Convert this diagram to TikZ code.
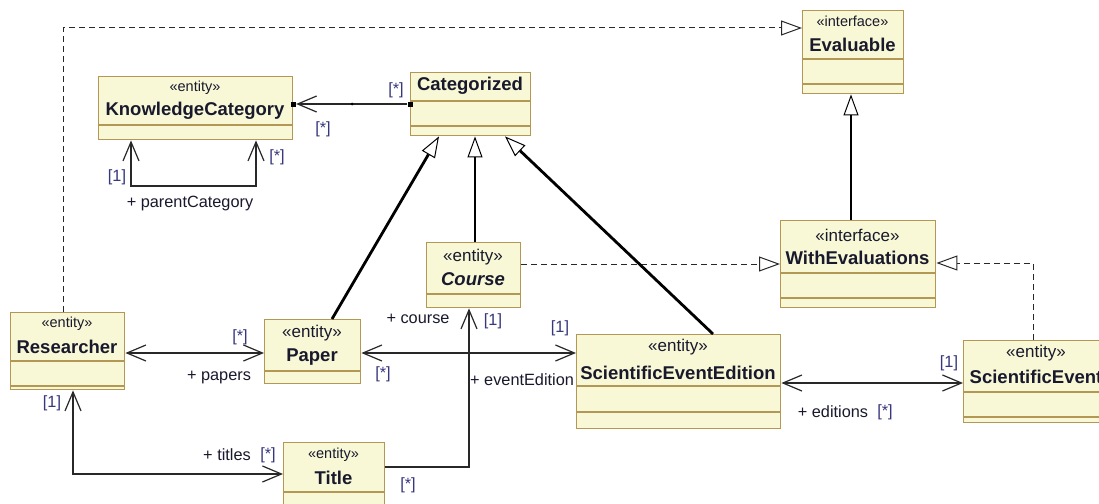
\documentclass[tikz,border=0pt]{standalone}
\usepackage{fontspec}
\setmainfont{Liberation Sans}
\usetikzlibrary{arrows.meta}
\definecolor{boxfill}{RGB}{248,248,214}
\definecolor{boxdraw}{RGB}{178,152,84}
\definecolor{txt}{RGB}{25,25,45}
\definecolor{mult}{RGB}{55,55,125}
\definecolor{lin}{RGB}{40,40,40}
\tikzset{
  navtip/.tip={Straight Barb[length=19pt,width=16pt,line width=1.2pt]},
  gentip/.tip={Triangle[fill=white,length=21pt,width=15pt,line width=1pt]},
}
\newcommand\umlbox[5]{\node[ubox,anchor=north west,minimum width={(#4-#2)*1pt},minimum height={(#5-#3)*1pt}] (#1) at (#2,#3) {};}
\begin{document}
\begin{tikzpicture}[x=1pt,y=-1pt,
  ubox/.style={draw=boxdraw,fill=boxfill,line width=1.4pt,inner sep=0,rectangle},
  divl/.style={draw=boxdraw,line width=1.4pt},
  nm/.style={font=\fontsize{18.5}{18.5}\selectfont\bfseries,text=txt,inner sep=0},
  stl/.style={font=\fontsize{17}{17}\selectfont,text=txt,inner sep=0},
  sts/.style={font=\fontsize{14.5}{14.5}\selectfont,text=txt,inner sep=0},
  role/.style={font=\fontsize{16.3}{16.3}\selectfont,text=txt,inner sep=0},
  mul/.style={font=\fontsize{16.3}{16.3}\selectfont,text=mult,inner sep=0},
  assoc/.style={draw=lin,line width=1.3pt},
  gen/.style={draw=black,line width=2.8pt,-{gentip}},
  dsh/.style={draw=lin,line width=1pt,dash pattern=on 6pt off 4pt,-{gentip}},
  sq/.style={fill=black,minimum size=5pt,inner sep=0,rectangle},
  dotst/.style={fill=black,circle,minimum size=3pt,inner sep=0},
]
\fill[white] (0,0) rectangle (1099,503);
\useasboundingbox (0,0) rectangle (1099,503);

% ---------- boxes ----------
\umlbox{kc}{98}{76}{292}{139}
\draw[divl] (kc.west |- 0,125) -- (kc.east |- 0,125);
\node[sts] (kcst) at (195,88) {«entity»};
\node[nm] (kcnm) at (195,111) {KnowledgeCategory};

\umlbox{cat}{410}{72}{530}{135}
\draw[divl] (cat.west |- 0,101) -- (cat.east |- 0,101);
\draw[divl] (cat.west |- 0,126) -- (cat.east |- 0,126);
\node[nm] (catnm) at (470,86) {Categorized};

\umlbox{eval}{802}{10}{903}{93}
\draw[divl] (eval.west |- 0,59) -- (eval.east |- 0,59);
\draw[divl] (eval.west |- 0,84) -- (eval.east |- 0,84);
\node[sts] (evst) at (852.5,21) {«interface»};
\node[nm] (evnm) at (852.5,45) {Evaluable};

\umlbox{withev}{780}{220}{935}{307}
\draw[divl] (withev.west |- 0,273) -- (withev.east |- 0,273);
\draw[divl] (withev.west |- 0,298) -- (withev.east |- 0,298);
\node[stl] (west) at (857.5,235) {«interface»};
\node[nm] (wenm) at (857.5,258) {WithEvaluations};

\umlbox{course}{426}{242}{520}{307}
\draw[divl] (course.west |- 0,294) -- (course.east |- 0,294);
\node[stl] (cost) at (473,257) {«entity»};
\node[nm,font=\fontsize{18.5}{18.5}\selectfont\bfseries\itshape] (conm) at (473,279) {Course};

\umlbox{paper}{264}{319}{360}{383}
\draw[divl] (paper.west |- 0,371) -- (paper.east |- 0,371);
\node[stl] (past) at (312,333) {«entity»};
\node[nm] (panm) at (312,357) {Paper};

\umlbox{res}{10}{312}{124}{389}
\draw[divl] (res.west |- 0,361) -- (res.east |- 0,361);
\draw[divl] (res.west |- 0,386) -- (res.east |- 0,386);
\node[sts] (rest) at (67,324) {«entity»};
\node[nm] (renm) at (67,347) {Researcher};

\umlbox{see}{576}{334}{780}{428}
\draw[divl] (see.west |- 0,386) -- (see.east |- 0,386);
\draw[divl] (see.west |- 0,412) -- (see.east |- 0,412);
\node[stl] (seest) at (678,347) {«entity»};
\node[nm] (seenm) at (678,373) {ScientificEventEdition};

\umlbox{se}{963}{340}{1110}{422}
\draw[divl] (se.west |- 0,392) -- (se.east |- 0,392);
\draw[divl] (se.west |- 0,417) -- (se.east |- 0,417);
\node[stl] (sest) at (1036,353) {«entity»};
\node[nm] (senm) at (1036,377) {ScientificEvent};

\umlbox{title}{283}{442}{384}{512}
\draw[divl] (title.west |- 0,492) -- (title.east |- 0,492);
\node[sts] (tist) at (333.5,455) {«entity»};
\node[nm] (tinm) at (333.5,478) {Title};

% ---------- realizations (dashed) ----------
\draw[dsh] (res.north -| 63,0) |- (eval.west |- 0,28);
\draw[dsh] (course.east |- 0,264) -- (withev.west |- 0,264);
\draw[dsh] (se.north -| 1033,0) |- (withev.east |- 0,263);

% ---------- generalizations ----------
\draw[gen] (withev.north -| 851,0) -- (eval.south -| 851,0);
\draw[gen] (paper.north -| 332,0) -- (cat.south -| 439,0);
\draw[gen] (course.north -| 475,0) -- (cat.south -| 475,0);
\draw[gen] (see.north -| 713,0) -- (cat.south -| 505,0);

% ---------- associations ----------
\node[sq] (sq1) at (kc.east |- 0,104) {};
\node[sq] (sq2) at (cat.west |- 0,104) {};
\draw[assoc,-{navtip}] (sq2.west) -- (sq1.east);
\node[dotst] (mid) at (352,104) {};

\draw[assoc,{navtip}-{navtip}] (kc.south -| 131,0) -- (131,186) -| (kc.south -| 256,0);
\draw[assoc,{navtip}-{navtip}] (res.east |- 0,353) -- (paper.west |- 0,353);
\draw[assoc,{navtip}-{navtip}] (paper.east |- 0,353) -- (see.west |- 0,353);
\draw[assoc,{navtip}-{navtip}] (see.east |- 0,383) -- (se.west |- 0,383);
\draw[assoc,{navtip}-{navtip}] (res.south -| 73,0) |- (title.west |- 0,474);
\draw[assoc,-{navtip}] (title.east |- 0,467) -| (course.south -| 469,0);

% ---------- labels ----------
\node[mul] (m1) at (396,90) {[*]};
\node[mul] (m2) at (323,129) {[*]};
\node[mul] (m3) at (117,177) {[1]};
\node[mul] (m4) at (277,157) {[*]};
\node[role] (r1) at (190,203) {+ parentCategory};
\node[mul] (m5) at (240,337) {[*]};
\node[role] (r2) at (219,377) {+ papers};
\node[mul] (m6) at (383,374) {[*]};
\node[mul] (m7) at (560,328) {[1]};
\node[role] (r3) at (418,319) {+ course};
\node[mul] (m8) at (493,321) {[1]};
\node[role,anchor=west] (r4) at (470,380) {+ eventEdition};
\node[mul] (m9) at (408,485) {[*]};
\node[mul] (m10) at (52,403) {[1]};
\node[role] (r5) at (227,455) {+ titles};
\node[mul] (m11) at (268,455) {[*]};
\node[mul] (m12) at (949,363) {[1]};
\node[role] (r6) at (833,412) {+ editions};
\node[mul] (m13) at (885,412) {[*]};
\end{tikzpicture}
\end{document}
